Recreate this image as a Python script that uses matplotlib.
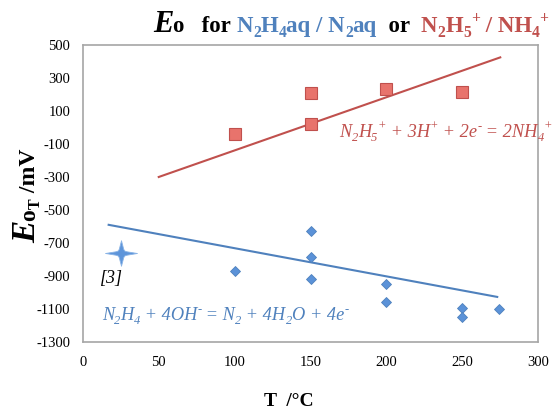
import numpy as np
import matplotlib
matplotlib.use("Agg")
import matplotlib.pyplot as plt

# --- data ---
red_T = [100, 150, 150, 200, 250]
red_E = [-40, 210, 20, 233, 215]
red_line_T = [50, 275]
red_line_E = [-300, 425]

blue_T = [100, 150, 150, 150, 200, 200, 250, 250, 274]
blue_E = [-870, -625, -783, -920, -950, -1056, -1096, -1150, -1100]
blue_line_T = [17, 273]
blue_line_E = [-590, -1027]

ref_T = [25]
ref_E = [-760]

x_ticks = [0, 50, 100, 150, 200, 250, 300]
y_ticks = [500, 300, 100, -100, -300, -500, -700, -900, -1100, -1300]

RED = "#c0504d"
BLUE = "#4f81bd"
SERIF = "Liberation Serif"

plt.rcParams["font.family"] = SERIF
plt.rcParams["axes.unicode_minus"] = False

fig = plt.figure(figsize=(5.56, 4.11), dpi=100)
ax = fig.add_axes([0.149, 0.168, 0.819, 0.7225])

# red set
ax.plot(red_line_T, red_line_E, color=RED, lw=1.5)
ax.plot(red_T, red_E, ls="none", marker="s", ms=8.5, mfc="#e8736c",
        mec="#c0504d", mew=0.8)

# blue set
ax.plot(blue_line_T, blue_line_E, color=BLUE, lw=1.5)
ax.plot(blue_T, blue_E, ls="none", marker="D", ms=5.2, mfc="#5b92d8",
        mec="#4f81bd", mew=0.6)

# 4-point sparkle for the literature value
star = []
for k in range(16):
    ang = np.pi / 2 + k * np.pi / 8
    r = [1.0, 0.36, 0.28, 0.36][k % 4]
    star.append((r * np.cos(ang), 0.8 * r * np.sin(ang)))
star.append(star[0])
ax.plot(ref_T, ref_E, ls="none", marker=star, ms=23, mfc="#5e95da",
        mec="#8ab4e6", mew=0.6)
ax.text(11, -942, "[3]", fontsize=13, style="italic")

ax.set_xlim(0, 300)
ax.set_ylim(-1300, 500)
ax.set_xticks(x_ticks)
ax.set_yticks(y_ticks)
ax.tick_params(length=0, labelsize=10.5, pad=10)
ax.tick_params(axis="y", pad=9)
for s in ax.spines.values():
    s.set_color("#a6a6a6")
    s.set_linewidth(1.2)

renderer = fig.canvas.get_renderer()
W, H = fig.bbox.width, fig.bbox.height
PX = fig.dpi / 72.0


def rich(x0, y0, segs, size, rot=False, **base):
    # segs: (text, mode, extra style); mode n / sub / sup; x0, y0 in pixels
    pos = 0.0
    for seg in segs:
        txt, mode = seg[0], seg[1]
        kw = dict(base)
        if len(seg) > 2:
            kw.update(seg[2])
        fs = kw.pop("fontsize", size)
        shift = {"n": 0.0, "sub": -0.22 * fs, "sup": 0.40 * fs}[mode] * PX
        if mode != "n":
            fs = fs * 0.68
        if rot:
            x, y = x0 - shift, y0 + pos
        else:
            x, y = x0 + pos, y0 + shift
        t = fig.text(x / W, y / H, txt, fontsize=fs, ha="left", va="baseline",
                     rotation=90 if rot else 0, rotation_mode="anchor", **kw)
        bb = t.get_window_extent(renderer)
        pos += bb.height if rot else bb.width


# equations
x0, y0 = ax.transData.transform((169, -60))
rich(x0, y0, [("N", "n"), ("2", "sub"), ("H", "n"), ("5", "sub"), ("+", "sup"),
              (" + 3H", "n"), ("+", "sup"), (" + 2e", "n"), ("-", "sup"),
              (" = 2NH", "n"), ("4", "sub"), ("+", "sup")],
     13.2, color=RED, style="italic")
x0, y0 = ax.transData.transform((12.5, -1167))
rich(x0, y0, [("N", "n"), ("2", "sub"), ("H", "n"), ("4", "sub"), (" + 4OH", "n"),
              ("-", "sup"), (" = N", "n"), ("2", "sub"), (" + 4H", "n"), ("2", "sub"),
              ("O + 4e", "n"), ("-", "sup")],
     13.2, color=BLUE, style="italic")

# title
blue = {"color": BLUE}
red = {"color": RED}
rich(153, H - 32, [("E", "n", {"fontsize": 22, "style": "italic"}), ("o   for ", "n"),
                   ("N", "n", blue), ("2", "sub", blue), ("H", "n", blue),
                   ("4", "sub", blue), ("aq / N", "n", blue), ("2", "sub", blue),
                   ("aq", "n", blue), ("  or  ", "n"),
                   ("N", "n", red), ("2", "sub", red), ("H", "n", red),
                   ("5", "sub", red), ("+", "sup", red), (" / NH", "n", red),
                   ("4", "sub", red), ("+", "sup", red)],
     16.5, weight="bold", color="black")

# y label
rich(35, H - 243, [("E", "n", {"fontsize": 24, "style": "italic"}), ("o", "n"),
                   ("T", "sub"), (" /mV", "n")],
     17, rot=True, weight="bold")

fig.text(0.52, 0.012, "T  /°C", ha="center", va="baseline", fontsize=14,
         weight="bold")

fig.savefig("out.png", dpi=100)
